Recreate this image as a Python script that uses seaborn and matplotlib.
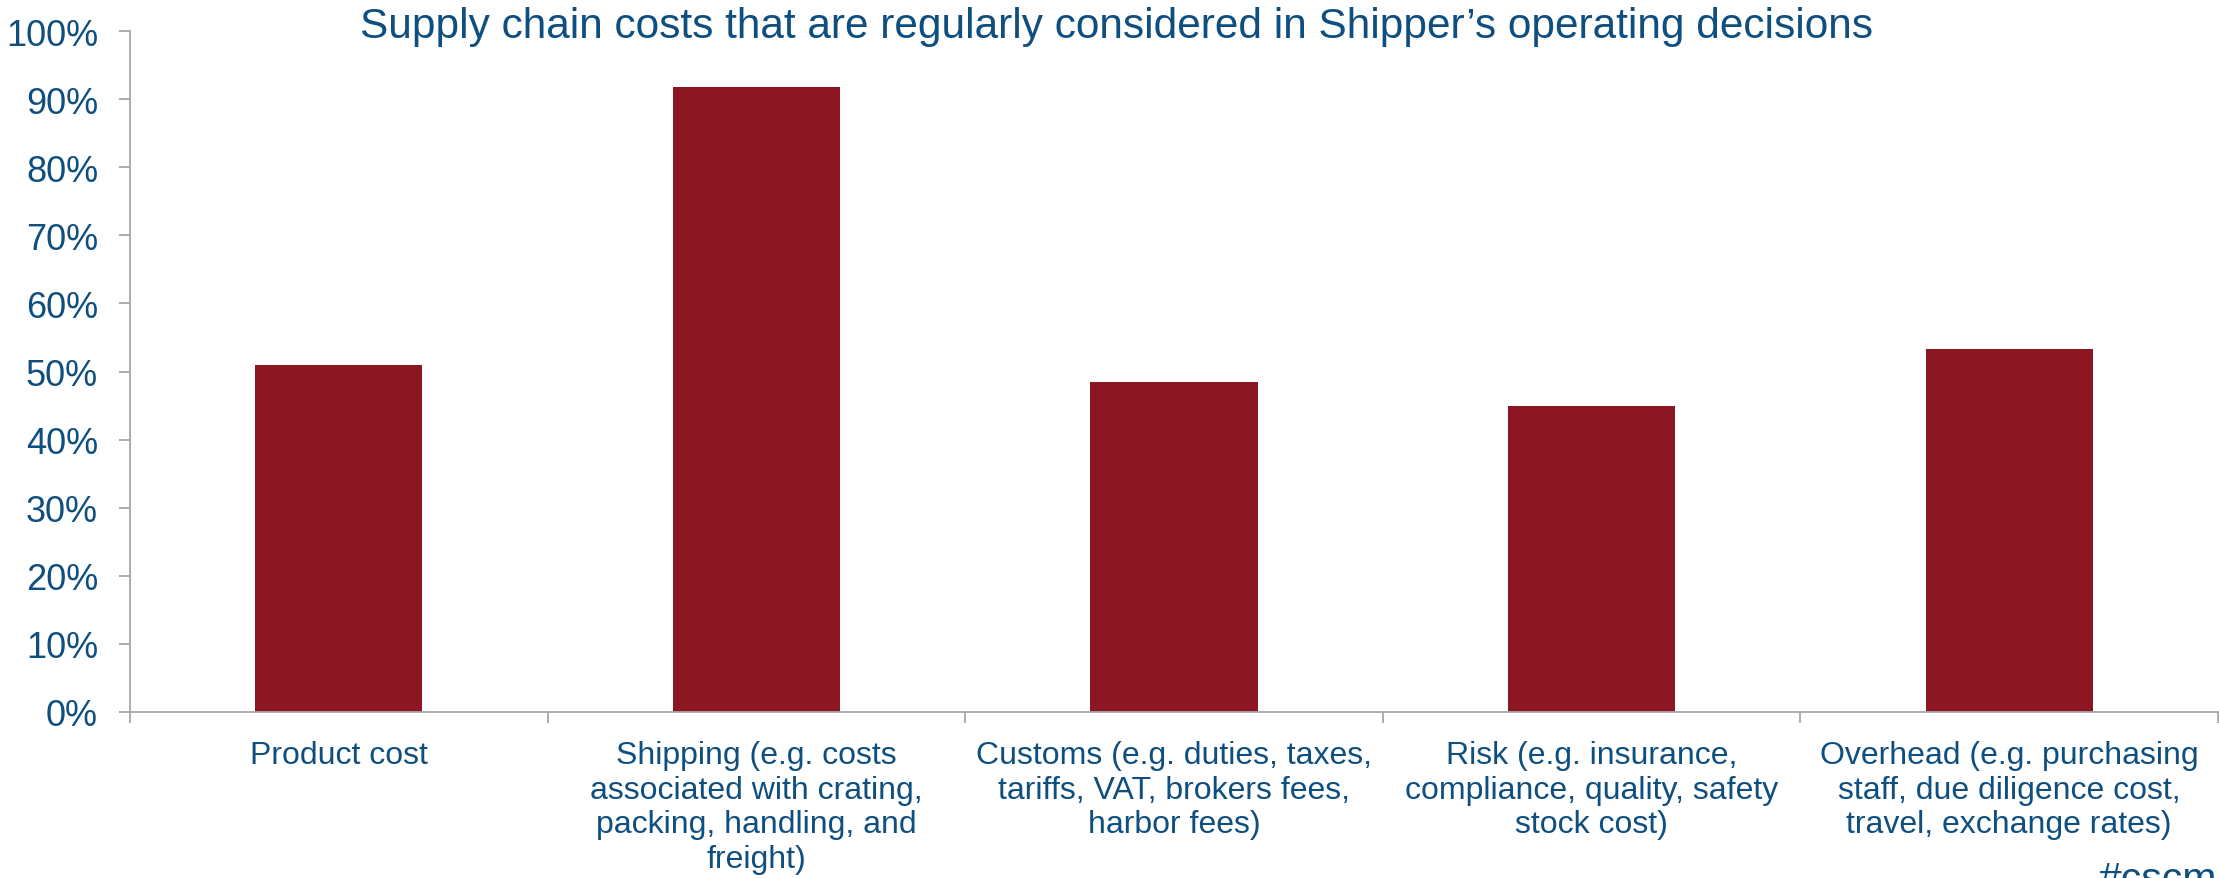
import matplotlib
matplotlib.use("Agg")
import matplotlib.pyplot as plt
import seaborn as sns
import pandas as pd
from matplotlib.ticker import FixedLocator, PercentFormatter

categories = [
    "Product cost",
    "Shipping (e.g. costs\nassociated with crating,\npacking, handling, and\nfreight)",
    "Customs (e.g. duties, taxes,\ntariffs, VAT, brokers fees,\nharbor fees)",
    "Risk (e.g. insurance,\ncompliance, quality, safety\nstock cost)",
    "Overhead (e.g. purchasing\nstaff, due diligence cost,\ntravel, exchange rates)",
]
shares = [50.9, 91.8, 48.5, 45.0, 53.3]
title = "Supply chain costs that are regularly considered in Shipper\u2019s operating decisions"
tag = "#cscm"

TEXT = "#0f4f80"
BAR = "#8c1722"
AXIS = "#a6a6a6"

sns.set_theme(style="white")
plt.rcParams["font.family"] = ["Liberation Sans", "DejaVu Sans"]

fig = plt.figure(figsize=(22.19, 8.79), dpi=100)
ax = fig.add_axes([130 / 2219, 166 / 879, (2218 - 130) / 2219, (713 - 32) / 879])

df = pd.DataFrame({"category": categories, "share": shares})
sns.barplot(data=df, x="category", y="share", color=BAR, saturation=1,
            width=0.4, ax=ax, edgecolor="none")

ax.set_xlim(-0.5, len(categories) - 0.5)
ax.set_ylim(0, 100)
ax.set_yticks(range(0, 101, 10))
ax.yaxis.set_major_formatter(PercentFormatter(decimals=0))
ax.set_xlabel("")
ax.set_ylabel("")

for side in ("top", "right"):
    ax.spines[side].set_visible(False)
for side in ("left", "bottom"):
    ax.spines[side].set_color(AXIS)
    ax.spines[side].set_linewidth(1.3)

ax.tick_params(axis="y", which="major", left=True, length=8, width=1.3,
               color=AXIS, labelsize=26, labelcolor=TEXT, pad=15)
ax.tick_params(axis="x", which="major", bottom=False, length=0,
               labelsize=23, labelcolor=TEXT, pad=20)
ax.xaxis.set_minor_locator(FixedLocator([i - 0.5 for i in range(len(categories) + 1)]))
ax.tick_params(axis="x", which="minor", bottom=True, length=8, width=1.3, color=AXIS)
for lbl in ax.get_xticklabels():
    lbl.set_multialignment("center")
    lbl.set_linespacing(1.21)

fig.text(0.503, 1 - 7 / 879, title, ha="center", va="top", fontsize=30.5, color=TEXT)
fig.text(2099 / 2219, -12 / 879, tag, ha="left", va="baseline", fontsize=29.5, color=TEXT)

fig.savefig("out.png", dpi=100, facecolor="white")
